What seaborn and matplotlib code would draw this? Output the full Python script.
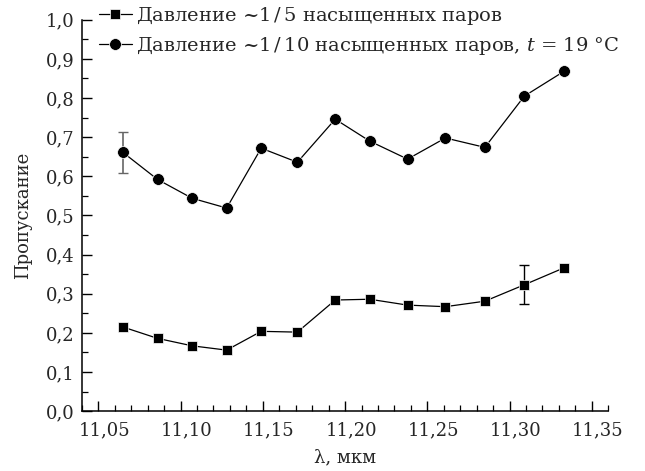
import matplotlib
matplotlib.use("Agg")
import matplotlib.pyplot as plt
import matplotlib.transforms as mtransforms
import seaborn as sns
import pandas as pd
from matplotlib.ticker import MultipleLocator, FixedLocator

# ---- data ----
wavelength = [11.065, 11.086, 11.107, 11.128, 11.149, 11.171, 11.194,
              11.215, 11.238, 11.261, 11.285, 11.309, 11.333]
trans_fifth = [0.215, 0.186, 0.167, 0.156, 0.204, 0.202, 0.284,
               0.286, 0.271, 0.267, 0.281, 0.323, 0.366]
trans_tenth = [0.661, 0.592, 0.544, 0.519, 0.672, 0.636, 0.746,
               0.690, 0.644, 0.698, 0.674, 0.805, 0.868]
err_fifth_idx = [11]
err_fifth = [0.05]
err_tenth_idx = [0]
err_tenth = [0.053]
label_fifth = "Давление ~1$\\,/\\,$5 насыщенных паров"
label_tenth = "Давление ~1$\\,/\\,$10 насыщенных паров, $t$ = 19 °C"
x_ticks = [11.05, 11.10, 11.15, 11.20, 11.25, 11.30, 11.35]
x_ticklabels = ["11,05", "11,10", "11,15", "11,20", "11,25", "11,30", "11,35"]
y_ticks = [0.0, 0.1, 0.2, 0.3, 0.4, 0.5, 0.6, 0.7, 0.8, 0.9, 1.0]
y_ticklabels = ["0,0", "0,1", "0,2", "0,3", "0,4", "0,5", "0,6", "0,7", "0,8", "0,9", "1,0"]
x_label = "λ, мкм"
y_label = "Пропускание"

sns.set_style("ticks")
plt.rcParams["font.family"] = ["DejaVu Serif"]
plt.rcParams["mathtext.fontset"] = "dejavuserif"

df1 = pd.DataFrame({"x": wavelength, "y": trans_fifth})
df2 = pd.DataFrame({"x": wavelength, "y": trans_tenth})

fig = plt.figure(figsize=(6.45, 4.71), dpi=100)
ax = fig.add_axes([0.127, 0.127, 0.816, 0.831])

sns.lineplot(data=df1, x="x", y="y", ax=ax, color="black", lw=0.9,
             marker="s", markersize=7.5, markeredgecolor="white",
             markeredgewidth=0.5, label=label_fifth)
sns.lineplot(data=df2, x="x", y="y", ax=ax, color="black", lw=0.9,
             marker="o", markersize=8.5, markeredgecolor="white",
             markeredgewidth=0.5, label=label_tenth)

ax.errorbar([wavelength[i] for i in err_fifth_idx],
            [trans_fifth[i] for i in err_fifth_idx], yerr=err_fifth,
            fmt="none", ecolor="black", elinewidth=1.0, capsize=3.5,
            capthick=1.0, zorder=1)
ax.errorbar([wavelength[i] for i in err_tenth_idx],
            [trans_tenth[i] for i in err_tenth_idx], yerr=err_tenth,
            fmt="none", ecolor="#666666", elinewidth=1.2, capsize=3.5,
            capthick=1.0, zorder=1)

ax.set_xlim(11.04, 11.36)
ax.set_ylim(0.0, 1.0)
ax.xaxis.set_major_locator(FixedLocator(x_ticks))
ax.set_xticklabels(x_ticklabels)
ax.yaxis.set_major_locator(FixedLocator(y_ticks))
ax.set_yticklabels(y_ticklabels)
ax.xaxis.set_minor_locator(MultipleLocator(0.01))
ax.yaxis.set_minor_locator(MultipleLocator(0.05))
ax.tick_params(axis="both", which="major", direction="in", length=7,
               width=1.0, labelsize=13, color="black")
ax.tick_params(axis="x", which="major", pad=7)
ax.tick_params(axis="y", which="major", pad=5)
ax.tick_params(axis="both", which="minor", direction="in", length=4,
               width=0.9, color="black")
shift = mtransforms.ScaledTranslation(0.06, 0, fig.dpi_scale_trans)
for lab in ax.get_xticklabels():
    lab.set_transform(lab.get_transform() + shift)
for s in ["left", "bottom"]:
    ax.spines[s].set_linewidth(1.1)
    ax.spines[s].set_color("black")
sns.despine(ax=ax)

ax.set_xlabel(x_label, fontsize=13, labelpad=7)
ax.set_ylabel(y_label, fontsize=13, labelpad=10)

leg = ax.legend(loc="upper left", bbox_to_anchor=(0.032, 1.038), frameon=False,
                fontsize=14, handlelength=1.7, handletextpad=0.2,
                labelspacing=0.4, borderaxespad=0.0, borderpad=0.0)

fig.savefig("out.png", dpi=100, facecolor="white")
